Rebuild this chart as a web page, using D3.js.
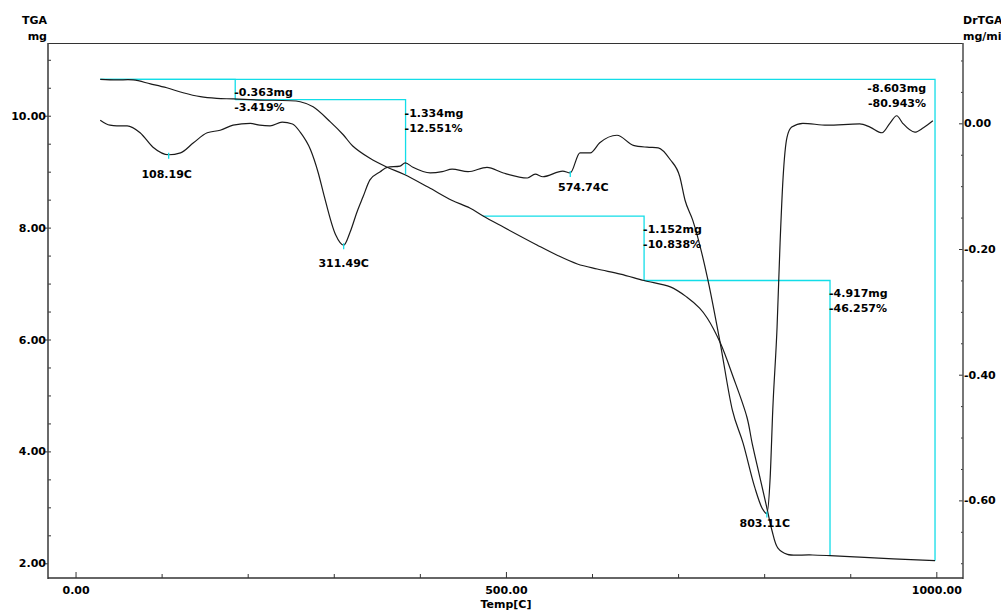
<!DOCTYPE html>
<html>
<head>
<meta charset="utf-8">
<script src="https://cdnjs.cloudflare.com/ajax/libs/d3/7.8.5/d3.min.js"></script>
<style>
body { margin: 0; background: #fff; }
svg { display: block; font-family: "DejaVu Sans", sans-serif; font-weight: bold; font-size: 11px; }
</style>
</head>
<body>
<div id="chart"></div>
<script>
// TGA trace: temperature [C] and sample mass [mg]
var tgaTemp = [28.7, 48, 67, 87, 106, 125, 145, 164, 183, 214, 261, 276, 296, 311, 322, 342, 362, 382,
  410, 437, 458, 473.5, 497, 536, 559, 583, 606, 633, 660.5, 691, 710, 725, 734, 749, 764, 780, 786,
  795, 803, 809, 816, 827, 853, 876.5, 911, 950, 998.5];
var tgaMass = [10.65, 10.64, 10.64, 10.57, 10.50, 10.41, 10.34, 10.31, 10.30, 10.28, 10.25, 10.16, 9.89,
  9.66, 9.46, 9.24, 9.08, 8.95, 8.72, 8.49, 8.35, 8.207, 8.01, 7.69, 7.51, 7.35, 7.26, 7.17, 7.055,
  6.94, 6.76, 6.56, 6.38, 5.94, 5.33, 4.61, 4.15, 3.54, 3.00, 2.59, 2.27, 2.16, 2.15, 2.138, 2.11,
  2.08, 2.047];

// DrTGA trace: temperature [C] and rate [mg/min]
var dtgTemp = [28.7, 40, 48, 60, 75, 90, 108.2, 122, 137, 153, 168, 183, 203, 214, 226, 240, 252, 261,
  273, 282, 288, 302, 311.5, 319, 327, 334, 342, 354, 362, 377, 383, 392, 412, 426, 437.5, 456, 478,
  497, 525, 534, 543, 566, 574.7, 586, 598, 609, 629, 648, 664, 677, 691, 702, 708, 717, 734, 749,
  763, 775.5, 789, 797.5, 803.1, 807, 810, 815, 818.5, 822, 826.6, 832, 845, 873, 911, 923, 937, 946,
  954, 961, 975, 985, 996];
var dtgRate = [0.005, -0.003, -0.004, -0.004, -0.015, -0.038, -0.050, -0.047, -0.031, -0.015, -0.011,
  -0.003, 0.000, -0.003, -0.004, 0.002, -0.001, -0.014, -0.042, -0.079, -0.111, -0.177, -0.194, -0.173,
  -0.141, -0.117, -0.090, -0.077, -0.070, -0.068, -0.063, -0.070, -0.079, -0.077, -0.073, -0.077,
  -0.070, -0.079, -0.087, -0.081, -0.085, -0.076, -0.079, -0.047, -0.047, -0.031, -0.019, -0.035,
  -0.038, -0.039, -0.058, -0.085, -0.122, -0.154, -0.245, -0.350, -0.456, -0.509, -0.579, -0.612,
  -0.621, -0.563, -0.456, -0.324, -0.190, -0.086, -0.022, -0.006, 0.000, -0.003, -0.001, -0.006,
  -0.015, 0.000, 0.012, 0.000, -0.014, -0.007, 0.004];

// DrTGA peaks
var peakTemp = [108.19, 311.49, 574.74, 803.11];
var peakRate = [-0.050, -0.194, -0.079, -0.621];

// weight loss analyses (last one = total)
var stepFrom = [28.7, 185.5, 473.5, 660.5, 28.7];
var stepTo = [185.5, 383.4, 660.5, 876.5, 998.5];
var stepStartMass = [10.65, 10.287, 8.207, 7.055, 10.65];
var stepLossMg = [-0.363, -1.334, -1.152, -4.917, -8.603];
var stepLossPct = [-3.419, -12.551, -10.838, -46.257, -80.943];

// ticks
var xMajor = [0, 500, 1000];
var xLabels = ["0.00", "500.00", "1000.00"];
var xMinor = [100, 200, 300, 400, 600, 700, 800, 900];
var leftMajor = [2, 4, 6, 8, 10];
var leftLabels = ["2.00", "4.00", "6.00", "8.00", "10.00"];
var leftMinor = d3.range(2.5, 11.01, 0.5);
var rightMajor = [0, -0.2, -0.4, -0.6];
var rightLabels = ["0.00", "-0.20", "-0.40", "-0.60"];
var rightMinor = [0.1, 0.05, -0.05, -0.1, -0.15, -0.25, -0.3, -0.35, -0.45, -0.5, -0.55, -0.65, -0.7];

var width = 1001, height = 610;
var frame = {left: 48, right: 963, top: 43, bottom: 578};
var cyan = "#12dde8";
var ink = "#1a1a1a";

var x = d3.scaleLinear().domain([-32, 1031]).range([frame.left, frame.right]);
var yL = d3.scaleLinear().domain([1.737, 11.30]).range([frame.bottom, frame.top]);
var yR = d3.scaleLinear().domain([-0.7235, 0.1278]).range([frame.bottom, frame.top]);

var svg = d3.select("#chart").append("svg")
    .attr("width", width)
    .attr("height", height);

svg.append("defs").append("clipPath").attr("id", "plot")
  .append("rect")
    .attr("x", frame.left).attr("y", frame.top)
    .attr("width", frame.right - frame.left)
    .attr("height", frame.bottom - frame.top);

// helper to tidy up axis groups
function styleAxis(g) {
  g.attr("font-family", null).attr("font-size", null).attr("color", "#000");
  g.select(".domain").remove();
  g.selectAll(".tick line").attr("stroke", "#333");
}

// left axis
svg.append("g").attr("transform", `translate(${frame.left},0)`)
  .call(d3.axisRight(yL).tickValues(leftMinor).tickSize(3).tickFormat(""))
  .call(styleAxis);
svg.append("g").attr("transform", `translate(${frame.left},0)`)
  .call(d3.axisLeft(yL).tickValues(leftMajor).tickSize(3).tickPadding(-1)
    .tickFormat(function(d, i) { return leftLabels[i]; }))
  .call(styleAxis);

// bottom axis, ticks point up into the plot
svg.append("g").attr("transform", `translate(0,${frame.bottom})`)
  .call(d3.axisTop(x).tickValues(xMinor).tickSize(4).tickFormat(""))
  .call(styleAxis);
svg.append("g").attr("transform", `translate(0,${frame.bottom})`)
  .call(d3.axisTop(x).tickValues(xMajor).tickSize(6).tickFormat(""))
  .call(styleAxis);
svg.append("g").attr("transform", `translate(0,${frame.bottom})`)
  .call(d3.axisBottom(x).tickValues(xMajor).tickSize(0).tickPadding(8)
    .tickFormat(function(d, i) { return xLabels[i]; }))
  .call(styleAxis);

// right axis
svg.append("g").attr("transform", `translate(${frame.right},0)`)
  .call(d3.axisLeft(yR).tickValues(rightMinor).tickSize(2).tickFormat(""))
  .call(styleAxis);
svg.append("g").attr("transform", `translate(${frame.right},0)`)
  .call(d3.axisLeft(yR).tickValues(rightMajor).tickSize(4).tickFormat(""))
  .call(styleAxis);
svg.append("g").attr("transform", `translate(${frame.right},0)`)
  .call(d3.axisRight(yR).tickValues(rightMajor).tickSize(0).tickPadding(1)
    .tickFormat(function(d, i) { return rightLabels[i]; }))
  .call(styleAxis);

// frame
svg.append("line").attr("x1", frame.left).attr("x2", frame.right)
  .attr("y1", frame.top + 0.5).attr("y2", frame.top + 0.5)
  .attr("stroke", "#333").attr("stroke-width", 1);
svg.append("line").attr("x1", frame.left).attr("x2", frame.left)
  .attr("y1", frame.top).attr("y2", frame.bottom + 1)
  .attr("stroke", "#444").attr("stroke-width", 1.6);
svg.append("line").attr("x1", frame.right).attr("x2", frame.right)
  .attr("y1", frame.top).attr("y2", frame.bottom + 1)
  .attr("stroke", "#555").attr("stroke-width", 1.6);
svg.append("line").attr("x1", frame.left).attr("x2", frame.right)
  .attr("y1", frame.bottom).attr("y2", frame.bottom)
  .attr("stroke", "#333").attr("stroke-width", 1.6);

// axis titles (the right ones run off the page edge, as in the original)
svg.append("text").attr("x", 47).attr("y", 24).attr("text-anchor", "end").text("TGA");
svg.append("text").attr("x", 47).attr("y", 40).attr("text-anchor", "end").text("mg");
svg.append("text").attr("x", 963).attr("y", 24).text("DrTGA");
svg.append("text").attr("x", 963).attr("y", 40).text("mg/min");
svg.append("text").attr("x", x(500)).attr("y", 608).attr("text-anchor", "middle").text("Temp[C]");

var plot = svg.append("g").attr("clip-path", "url(#plot)");

// weight loss step lines
var steps = d3.range(stepFrom.length);
plot.selectAll("path.step")
  .data(steps)
  .enter()
  .append("path")
    .attr("class", "step")
    .attr("fill", "none")
    .attr("stroke", cyan)
    .attr("stroke-width", 1.3)
    .attr("d", function(i) {
      return "M" + x(stepFrom[i]) + "," + yL(stepStartMass[i]) +
        "H" + x(stepTo[i]) +
        "V" + yL(stepStartMass[i] + stepLossMg[i]);
    });

// curves
var tgaLine = d3.line()
    .x(function(i) { return x(tgaTemp[i]); })
    .y(function(i) { return yL(tgaMass[i]); })
    .curve(d3.curveCatmullRom.alpha(0.5));
var dtgLine = d3.line()
    .x(function(i) { return x(dtgTemp[i]); })
    .y(function(i) { return yR(dtgRate[i]); })
    .curve(d3.curveMonotoneX);

plot.append("path")
    .attr("d", dtgLine(d3.range(dtgTemp.length)))
    .attr("fill", "none").attr("stroke", ink).attr("stroke-width", 1.2);
plot.append("path")
    .attr("d", tgaLine(d3.range(tgaTemp.length)))
    .attr("fill", "none").attr("stroke", ink).attr("stroke-width", 1.2);

// peak markers and labels
var peakOffset = [[-2, 23], [0, 22], [13, 18], [-2, 13]];
peakTemp.forEach(function(t, i) {
  var px = x(t), py = yR(peakRate[i]);
  plot.append("line")
    .attr("x1", px).attr("x2", px)
    .attr("y1", py - 2).attr("y2", py + 4)
    .attr("stroke", cyan).attr("stroke-width", 1.3);
  svg.append("text")
    .attr("x", px + peakOffset[i][0])
    .attr("y", py + peakOffset[i][1])
    .attr("text-anchor", "middle")
    .text(t.toFixed(2) + "C");
});

// weight loss labels
steps.forEach(function(i) {
  var top = yL(stepStartMass[i]);
  var total = i === steps.length - 1;
  var lx = total ? x(stepTo[i]) - 9 : x(stepTo[i]) - 1;
  var g = svg.append("g").attr("text-anchor", total ? "end" : "start");
  g.append("text").attr("x", lx).attr("y", top + (total ? 13 : 17))
    .text(stepLossMg[i].toFixed(3) + "mg");
  g.append("text").attr("x", lx).attr("y", top + (total ? 28 : 32))
    .text(stepLossPct[i].toFixed(3) + "%");
});
</script>
</body>
</html>
